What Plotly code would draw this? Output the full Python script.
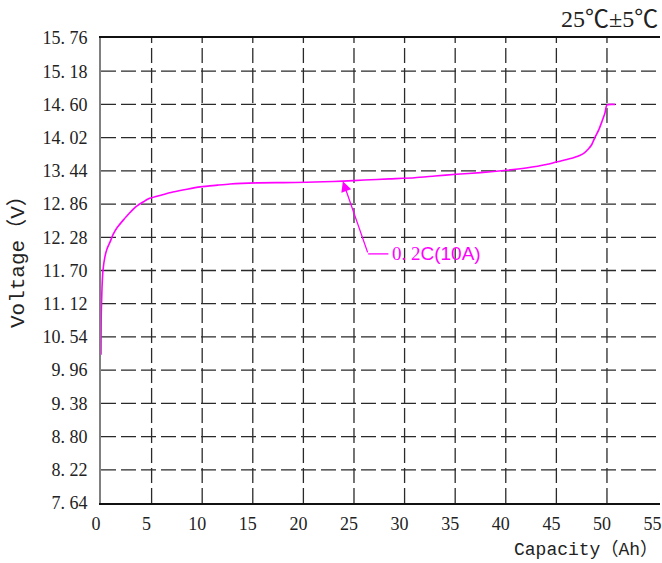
import plotly.graph_objects as go

# ---- data ----
capacity_ah = [0, 0.02, 0.1, 0.2, 0.4, 0.6, 0.9, 1.2, 1.6, 2.2, 2.8, 3.5, 4.2, 4.8,
               6.0, 7.1, 8.5, 9.8, 11.5, 12.75, 15.4, 18.0, 20.3, 22.0, 23.9, 26.0,
               28.5, 31.0, 33.0, 35.1, 37.5, 40.1, 42.0, 44.0, 45.1, 46.3, 47.3,
               47.8, 48.2, 48.5, 48.8, 49.2, 49.5, 49.8, 50.0, 50.8]
voltage_v = [10.23, 10.9, 11.4, 11.71, 11.95, 12.08, 12.2, 12.33, 12.45, 12.58,
             12.7, 12.82, 12.9, 12.96, 13.02, 13.07, 13.12, 13.16, 13.19, 13.21,
             13.23, 13.235, 13.24, 13.25, 13.26, 13.28, 13.30, 13.32, 13.35, 13.38,
             13.41, 13.45, 13.49, 13.55, 13.60, 13.65, 13.71, 13.76, 13.83, 13.90,
             14.02, 14.16, 14.30, 14.45, 14.59, 14.60]

x_tick_vals = [0, 5, 10, 15, 20, 25, 30, 35, 40, 45, 50, 55]
x_tick_labels = ["0", "5", "10", "15", "20", "25", "30", "35", "40", "45", "50", "55"]
x_grid_vals = [5, 10, 15, 20, 25, 30, 35, 40, 45, 50]

y_tick_vals = [7.64, 8.22, 8.80, 9.38, 9.96, 10.54, 11.12, 11.70, 12.28, 12.86,
               13.44, 14.02, 14.60, 15.18, 15.76]
y_tick_labels = ["7. 64", "8. 22", "8. 80", "9. 38", "9. 96", "10. 54", "11. 12",
                 "11. 70", "12. 28", "12. 86", "13. 44", "14. 02", "14. 60",
                 "15. 18", "15. 76"]
y_grid_vals = y_tick_vals[1:-1]

# annotation anchor (data coordinates)
arrow_head = (23.9, 13.26)
arrow_tail = (26.4, 11.99)
leader_end = (28.4, 11.99)
note_text = "0. 2<span style='font-family:Liberation Sans'>C(10A)</span>"

MAGENTA = "#FF00FF"
X_MAX = 55.24
Y_MIN, Y_MAX = 7.64, 15.76

fig = go.Figure()
fig.add_trace(go.Scatter(x=capacity_ah, y=voltage_v, mode="lines",
                         line=dict(color=MAGENTA, width=1.6, shape="spline", smoothing=0.6),
                         hoverinfo="skip"))

shapes = []
grid_line = dict(color="#2a2a2a", width=1.3, dash="15px,5px")
for xv in x_grid_vals:
    shapes.append(dict(type="line", xref="x", yref="y", x0=xv, x1=xv, y0=Y_MIN, y1=Y_MAX,
                       line=grid_line, layer="below"))
for yv in y_grid_vals:
    shapes.append(dict(type="line", xref="x", yref="y", x0=0, x1=X_MAX, y0=yv, y1=yv,
                       line=grid_line, layer="below"))
# leader horizontal segment
shapes.append(dict(type="line", xref="x", yref="y", x0=arrow_tail[0], x1=leader_end[0],
                   y0=arrow_tail[1], y1=leader_end[1], line=dict(color=MAGENTA, width=1.3)))

annotations = [
    dict(x=arrow_head[0], y=arrow_head[1], ax=arrow_tail[0], ay=arrow_tail[1],
         xref="x", yref="y", axref="x", ayref="y", text="", showarrow=True,
         arrowhead=2, arrowsize=1.6, arrowwidth=1.3, arrowcolor=MAGENTA),
    dict(x=leader_end[0], y=leader_end[1], xref="x", yref="y", text=note_text,
         showarrow=False, xanchor="left", yanchor="middle", xshift=2,
         font=dict(family="Liberation Serif", size=19, color=MAGENTA)),
    dict(x=-0.1485, y=0.531, xref="paper", yref="paper", text="Voltage（V）",
         textangle=-90, showarrow=False, xanchor="center", yanchor="middle",
         font=dict(family="Liberation Mono, Noto Sans CJK SC", size=21, color="#222")),
    dict(x=1.0, y=-0.10, xref="paper", yref="paper", text="Capacity（Ah）",
         showarrow=False, xanchor="right", yanchor="middle",
         font=dict(family="Liberation Mono, Noto Sans CJK SC", size=18, color="#222")),
    dict(x=1.0, y=1.040, xref="paper", yref="paper", text="25℃±5℃",
         showarrow=False, xanchor="right", yanchor="middle",
         font=dict(family="Liberation Serif, Noto Sans CJK SC", size=24, color="#222")),
]

fig.update_layout(
    width=662, height=563,
    margin=dict(l=101, r=2, t=38, b=60, pad=0, autoexpand=False),
    plot_bgcolor="white", paper_bgcolor="white",
    showlegend=False,
    shapes=shapes, annotations=annotations,
    font=dict(family="Liberation Serif", size=18, color="#222"),
)
fig.update_xaxes(range=[0, X_MAX], tickmode="array", tickvals=x_tick_vals,
                 ticktext=x_tick_labels, showgrid=False, zeroline=False,
                 showline=True, linecolor="#111", linewidth=1.6, mirror=True,
                 ticks="", ticklabelstandoff=4, ticklabelshift=-5, automargin=False,
                 tickfont=dict(family="Liberation Serif", size=18, color="#222"))
fig.update_yaxes(range=[Y_MIN, Y_MAX], tickmode="array", tickvals=y_tick_vals,
                 ticktext=y_tick_labels, showgrid=False, zeroline=False,
                 showline=True, linecolor="#808080", linewidth=2, automargin=False,
                 ticks="", ticklabelstandoff=8,
                 tickfont=dict(family="Liberation Serif", size=18, color="#222"))

fig.write_html("out.html", config={"displayModeBar": False},
               post_script="document.body.style.margin='0';document.body.style.overflow='hidden';")
